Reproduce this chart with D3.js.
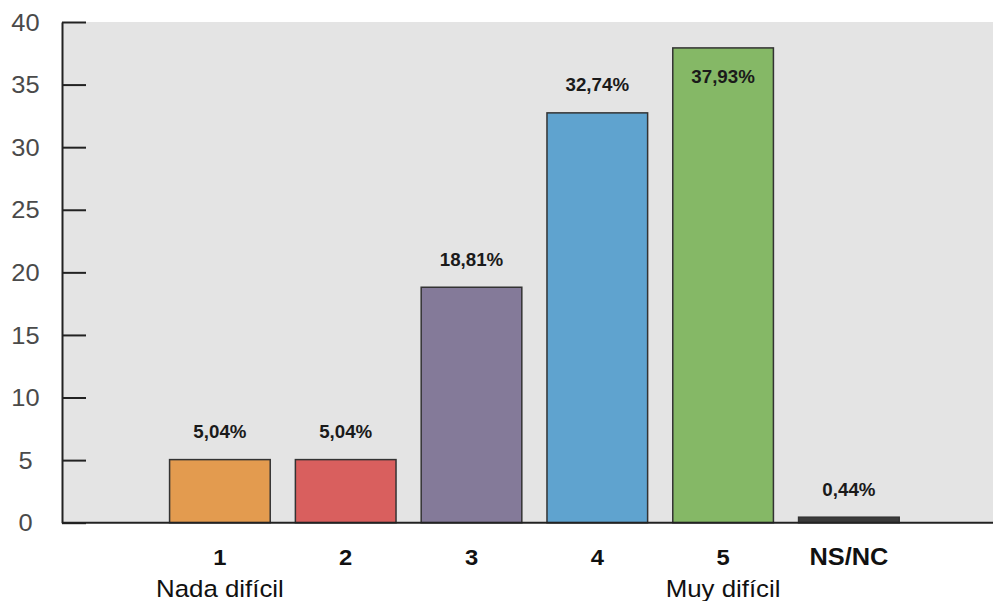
<!DOCTYPE html>
<html>
<head>
<meta charset="utf-8">
<script src="https://cdn.jsdelivr.net/npm/d3@7"></script>
<style>
  html, body { margin: 0; padding: 0; background: #ffffff; }
  svg { display: block; }
</style>
</head>
<body>
<svg id="chart" width="993" height="601"></svg>
<script>
// Survey answers: how difficult (1 = nada difícil, 5 = muy difícil)
const categories = ["1", "2", "3", "4", "5", "NS/NC"];
const values = [5.04, 5.04, 18.81, 32.74, 37.93, 0.44];
const valueLabels = ["5,04%", "5,04%", "18,81%", "32,74%", "37,93%", "0,44%"];
const barColors = ["#e39b4f", "#d95f5e", "#847a99", "#5fa3cf", "#85b866", "#3b3b3b"];
const yTicks = [0, 5, 10, 15, 20, 25, 30, 35, 40];
const extremeNotes = [["1", "Nada difícil"], ["5", "Muy difícil"]];

const FONT = "'Liberation Sans', Arial, sans-serif";
const svg = d3.select("#chart");
const plot = { left: 62, right: 993, top: 22, bottom: 522.7 };

const y = d3.scaleLinear().domain([0, 40]).range([plot.bottom, plot.top]);
const x = d3.scaleBand()
  .domain(categories)
  .range([157, 911.8])
  .paddingInner(0.2)
  .paddingOuter(0.1);
const cx = c => x(c) + x.bandwidth() / 2;

// Slightly wide lettering
const place = (px, py, sx) => `translate(${px},${py}) scale(${sx},1)`;

// Plot background
svg.append("rect")
  .attr("x", plot.left).attr("y", plot.top)
  .attr("width", plot.right - plot.left)
  .attr("height", plot.bottom - plot.top)
  .attr("fill", "#e4e4e4");

// Bars
svg.append("g").selectAll("rect")
  .data(values)
  .join("rect")
  .attr("x", (d, i) => x(categories[i]))
  .attr("y", d => y(d))
  .attr("width", x.bandwidth())
  .attr("height", d => y(0) - y(d))
  .attr("fill", (d, i) => barColors[i])
  .attr("stroke", "#333")
  .attr("stroke-width", 1.5);

// Value labels: above the bar, or inside when near the top of the scale
svg.append("g").selectAll("text")
  .data(values)
  .join("text")
  .attr("transform", (d, i) => place(cx(categories[i]), d > 35 ? y(d) + 35.5 : y(d) - 21.5, 1.04))
  .attr("text-anchor", "middle")
  .attr("font-family", FONT)
  .attr("font-weight", "bold")
  .attr("font-size", 18)
  .attr("fill", "#1a1a1a")
  .text((d, i) => valueLabels[i]);

// Y axis
const yAxis = d3.axisLeft(y)
  .tickValues(yTicks)
  .tickSize(0)
  .tickFormat("");
const gy = svg.append("g")
  .attr("transform", `translate(${plot.left},0)`)
  .call(yAxis);
gy.select(".domain").attr("stroke", "#222").attr("stroke-width", 2);
gy.selectAll(".tick").append("line")
  .attr("x1", 0).attr("x2", 24)
  .attr("stroke", "#222").attr("stroke-width", 2);

svg.append("g").selectAll("text")
  .data(yTicks)
  .join("text")
  .attr("transform", d => place(25.5, y(d) + 8.6, 1.06))
  .attr("text-anchor", "middle")
  .attr("font-family", FONT)
  .attr("font-size", 24)
  .attr("fill", "#4a4a4a")
  .text(d3.format("d"));

// X baseline
svg.append("line")
  .attr("x1", plot.left).attr("x2", plot.right)
  .attr("y1", y(0)).attr("y2", y(0))
  .attr("stroke", "#222").attr("stroke-width", 2);

// Category labels
svg.append("g").selectAll("text")
  .data(categories)
  .join("text")
  .attr("transform", d => place(cx(d), 565, 1.08))
  .attr("text-anchor", "middle")
  .attr("font-family", FONT)
  .attr("font-weight", "bold")
  .attr("font-size", d => d === "NS/NC" ? 23.5 : 22)
  .attr("fill", "#111")
  .text(d => d);

// Scale end notes
svg.append("g").selectAll("text")
  .data(extremeNotes)
  .join("text")
  .attr("transform", d => place(cx(d[0]), 597, 1.1))
  .attr("text-anchor", "middle")
  .attr("font-family", FONT)
  .attr("font-size", 23.5)
  .attr("fill", "#111")
  .text(d => d[1]);
</script>
</body>
</html>
